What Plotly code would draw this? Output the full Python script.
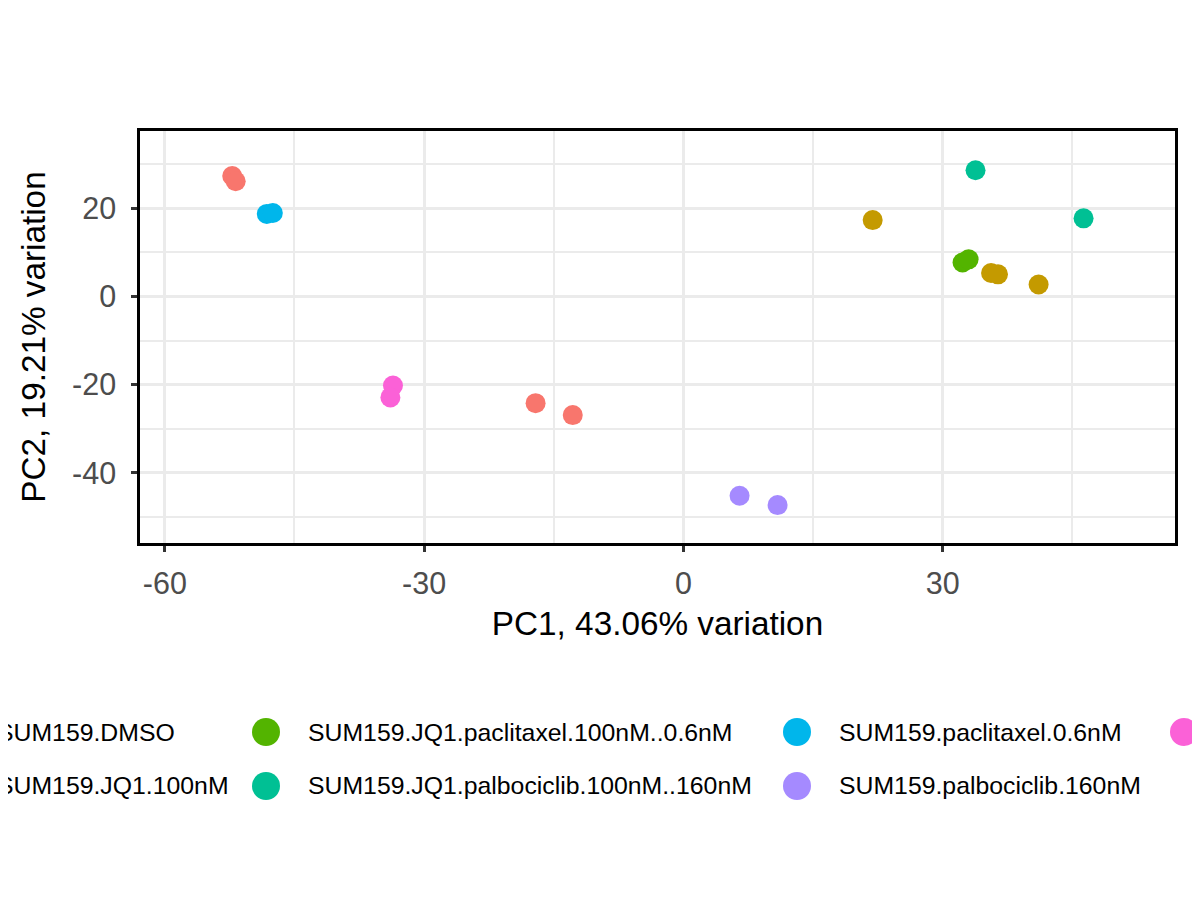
import plotly.graph_objects as go

# ---------------- data ----------------
groups = [
    "SUM159.DMSO",
    "SUM159.JQ1.100nM",
    "SUM159.JQ1.paclitaxel.100nM..0.6nM",
    "SUM159.JQ1.palbociclib.100nM..160nM",
    "SUM159.paclitaxel.0.6nM",
    "SUM159.palbociclib.160nM",
    "SUM159.palbociclib.paclitaxel",
]
colors = ["#F8766D", "#C49A00", "#53B400", "#00C094", "#00B6EB", "#A58AFF", "#FB61D7"]

pc1_dmso = [-52.2, -51.8, -17.1, -12.8]
pc2_dmso = [27.3, 26.1, -24.2, -26.9]

pc1_jq1 = [21.9, 35.6, 36.4, 41.1]
pc2_jq1 = [17.3, 5.3, 5.0, 2.7]

pc1_jq1_pac = [32.3, 33.0]
pc2_jq1_pac = [7.7, 8.4]

pc1_jq1_palbo = [33.8, 46.3]
pc2_jq1_palbo = [28.6, 17.7]

pc1_pac = [-48.2, -47.5]
pc2_pac = [18.7, 18.9]

pc1_palbo = [6.5, 10.9]
pc2_palbo = [-45.2, -47.3]

pc1_combo = [-33.6, -33.9]
pc2_combo = [-20.2, -22.9]

pc1_values = [pc1_dmso, pc1_jq1, pc1_jq1_pac, pc1_jq1_palbo, pc1_pac, pc1_palbo, pc1_combo]
pc2_values = [pc2_dmso, pc2_jq1, pc2_jq1_pac, pc2_jq1_palbo, pc2_pac, pc2_palbo, pc2_combo]

x_ticks = [-60, -30, 0, 30]
y_ticks = [-40, -20, 0, 20]
x_title = "PC1, 43.06% variation"
y_title = "PC2, 19.21% variation"

# ---------------- layout constants ----------------
W, H = 1200, 900
OFF = 8  # page body margin of the html page
ML, MT = 140 - OFF, 131 - OFF
MR = W - (1175 - OFF)
MB = H - (543 - OFF)
PW, PH = W - ML - MR, H - MT - MB

FONT = "Liberation Sans, Arial"

fig = go.Figure()
for name, col, xs, ys in zip(groups, colors, pc1_values, pc2_values):
    fig.add_trace(go.Scatter(
        x=xs, y=ys, mode="markers", name=name, showlegend=False,
        marker=dict(color=col, size=20, line=dict(width=0)),
    ))

axis_common = dict(
    showgrid=True, gridcolor="#EBEBEB", gridwidth=3,
    zeroline=False, showline=True, mirror=True, linecolor="black", linewidth=2.5,
    ticks="outside", ticklen=6, tickwidth=3, tickcolor="#333333",
    tickfont=dict(family=FONT, size=30.5, color="#4D4D4D"),
)

fig.update_xaxes(
    range=[-62.87, 56.88], tickvals=x_ticks, ticktext=[str(v) for v in x_ticks],
    minor=dict(dtick=15, tick0=0, showgrid=True, gridcolor="#EBEBEB", gridwidth=1.7, ticks=""),
    title=dict(text=x_title, font=dict(family=FONT, size=33.3, color="black"), standoff=13),
    ticklabelstandoff=6,
    **axis_common,
)
fig.update_yaxes(
    range=[-55.9, 37.5], tickvals=y_ticks, ticktext=[str(v) for v in y_ticks],
    minor=dict(dtick=10, tick0=0, showgrid=True, gridcolor="#EBEBEB", gridwidth=1.7, ticks=""),
    title=dict(text=y_title, font=dict(family=FONT, size=33.3, color="black"), standoff=17),
    ticklabelstandoff=9,
    **axis_common,
)

# ---------------- manual legend (clipped like the reference) ----------------
col_px = [-45, 266, 797, 1184]
row_px = [732, 786]
text_gap = 40
shapes = []
annotations = []
for i, (name, col) in enumerate(zip(groups, colors)):
    c, r = divmod(i, 2)
    cx = (col_px[c] - OFF - ML) / PW
    cy = (H - MB - (row_px[r] - OFF)) / PH
    shapes.append(dict(
        type="circle", xref="paper", yref="paper",
        xsizemode="pixel", ysizemode="pixel", xanchor=cx, yanchor=cy,
        x0=-14, x1=14, y0=-14, y1=14,
        fillcolor=col, line=dict(width=0), layer="above",
    ))
    annotations.append(dict(
        text=name, xref="paper", yref="paper",
        x=(col_px[c] - OFF + text_gap - ML) / PW, y=cy,
        xanchor="left", yanchor="middle", showarrow=False,
        font=dict(family=FONT, size=24.8, color="black"),
    ))

fig.update_layout(
    width=W, height=H,
    margin=dict(l=ML, r=MR, t=MT, b=MB, autoexpand=False),
    paper_bgcolor="white", plot_bgcolor="white",
    showlegend=False, shapes=shapes, annotations=annotations,
)

fig.write_html("out.html")
